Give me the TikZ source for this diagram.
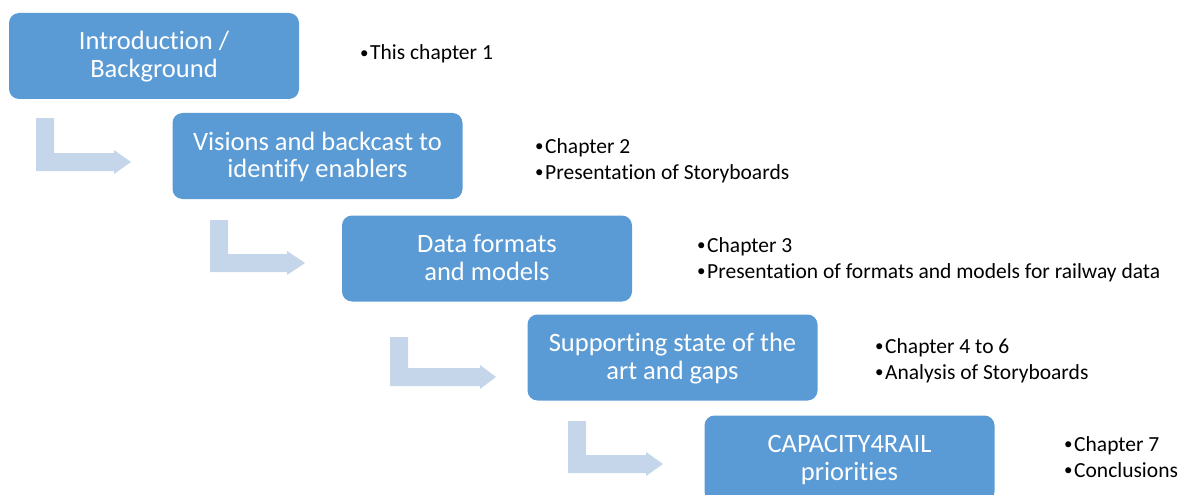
\documentclass[tikz,border=0pt]{standalone}
\usepackage{fontspec}
\setmainfont{Carlito}[Ligatures=NoCommon]
\definecolor{boxblue}{RGB}{91,155,213}
\definecolor{arrowblue}{RGB}{197,213,234}
\newcommand\bentarrow[5]{% x0, top, bottom, headbase, tip
  \fill[arrowblue] (#1,#2) -- ++(18,0) -- (#1+18,#3-18) -- (#4,#3-18) -- (#4,#3-21) -- (#5,#3-9) -- (#4,#3+3) -- (#4,#3) -- (#1,#3) -- cycle;}
\tikzset{
  stagebox/.style={fill=boxblue, rounded corners=10pt, minimum width=290pt, minimum height=86pt,
    text=white, align=center, inner sep=0pt, font=\fontsize{26.5}{27.5}\selectfont},
  notes/.style={anchor=base west, inner sep=0pt, align=left, text=black, font=\fontsize{21.5}{26}\selectfont}
}
\newcommand\twolines[2]{\rule{0pt}{21.5pt}#1\\#2\rule[-6pt]{0pt}{6pt}}
\newcommand\bitem[1]{\makebox[10pt][l]{\raisebox{1.5pt}{\fontsize{17}{17}\selectfont •}}#1}
\begin{document}
\begin{tikzpicture}[x=1pt,y=-1pt]
\useasboundingbox (0,0) rectangle (1179,495);
\clip (0,0) rectangle (1179,495);
% bent arrows
\bentarrow{36}{118}{171}{114}{131}
\bentarrow{210}{220}{272}{287}{305}
\bentarrow{390}{337}{386}{480}{496}
\bentarrow{568}{421}{473}{646}{663}
% boxes
\node[stagebox] (n1) at (154,56) {\twolines{Introduction /}{Background}};
\node[stagebox] (n2) at (317.5,156) {\twolines{Visions and backcast to}{identify enablers}};
\node[stagebox] (n3) at (487,258.5) {\twolines{Data formats}{and models}};
\node[stagebox] (n4) at (672.5,357.5) {\twolines{Supporting state of the}{art and gaps}};
\node[stagebox] (n5) at (849.5,458.5) {\twolines{CAPACITY4RAIL}{priorities}};
% notes (base = baseline of last line)
\node[notes] (t1) at (360,60) {\bitem{This chapter 1}};
\node[notes] (t2) at (535,179) {\bitem{Chapter 2}\\\bitem{Presentation of Storyboards}};
\node[notes] (t3) at (697,278) {\bitem{Chapter 3}\\\bitem{Presentation of formats and models for railway data}};
\node[notes] (t4) at (875,379) {\bitem{Chapter 4 to 6}\\\bitem{Analysis of Storyboards}};
\node[notes] (t5) at (1064,477) {\bitem{Chapter 7}\\\bitem{Conclusions}};
\end{tikzpicture}
\end{document}
